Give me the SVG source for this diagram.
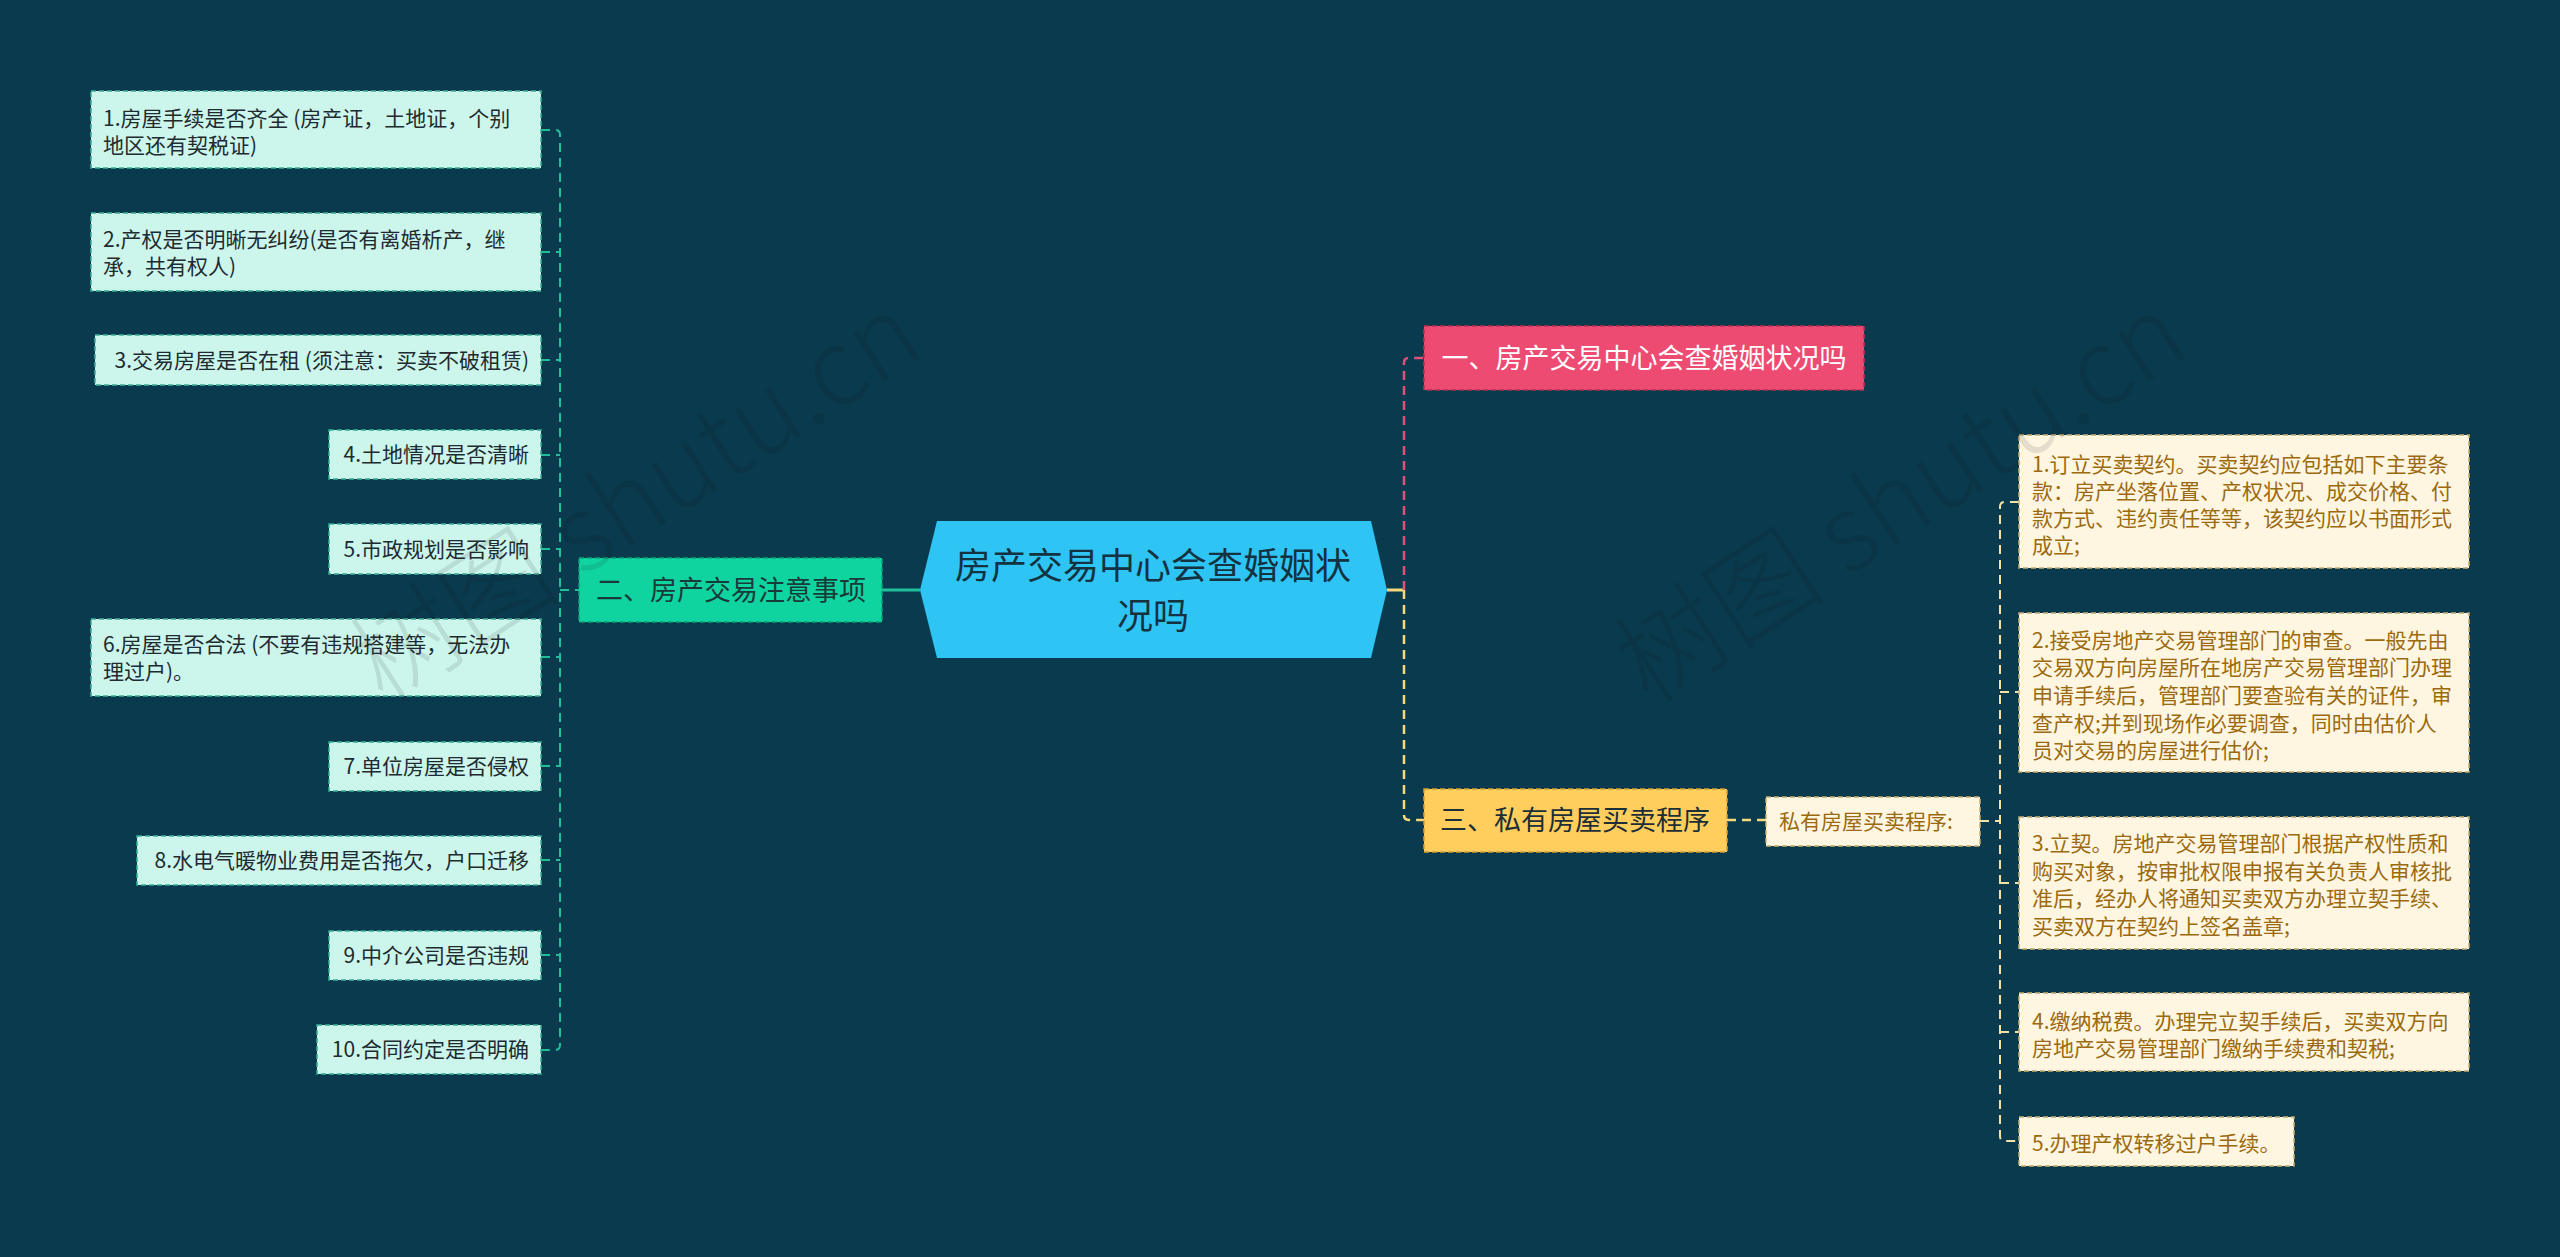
<svg xmlns="http://www.w3.org/2000/svg" width="2560" height="1257" viewBox="0 0 2560 1257">
<style>
text{font-family:"Noto Sans CJK SC","Noto Sans",sans-serif;}
.lf rect{fill:#CCF6EC;stroke:#3AAF95;stroke-width:1.5;stroke-dasharray:5 3;}
.lf text{font-size:21px;fill:#1E2B30;}
.rf rect{fill:#FFF6E1;stroke:#C7AE72;stroke-width:1.5;stroke-dasharray:5 3;}
.rf text{font-size:21px;fill:#9C6A0E;}
.br text{font-size:27px;}
.cg{fill:none;stroke:#1FBF9A;stroke-width:2;stroke-dasharray:9 6;}
.cp{fill:none;stroke:#E0517A;stroke-width:2.5;stroke-dasharray:9 6;}
.cy{fill:none;stroke:#F5D97A;stroke-width:2.5;stroke-dasharray:9 6;}
.cy2{fill:none;stroke:#F3E2A6;stroke-width:2;stroke-dasharray:9 6;}
.wm{font-size:106px;fill:#111;opacity:0.1;font-weight:300;}
</style>
<rect x="0" y="0" width="2560" height="1257" fill="#0A3A4D"/>

<g id="connectors">
<path class="cg" d="M541,130 H555 Q560,130 560,135 V1045 Q560,1050 555,1050 H541"/>
<path class="cg" d="M541,252 H560 M541,360 H560 M541,455 H560 M541,549 H560 M541,657 H560 M541,766 H560 M541,860 H560 M541,955 H560 M560,590 H579"/>
<path d="M882,590 H920" fill="none" stroke="#1FBF9A" stroke-width="3"/>
<path d="M1387,590 H1404" fill="none" stroke="#F5D97A" stroke-width="3"/>
<path class="cp" d="M1404,590 V363 Q1404,358 1409,358 H1424"/>
<path class="cy" d="M1404,590 V815 Q1404,820 1409,820 H1424"/>
<path class="cy" d="M1727,820 H1766"/>
<path class="cy2" d="M2019,502 H2005 Q2000,502 2000,507 V1136 Q2000,1141 2005,1141 H2019"/>
<path class="cy2" d="M2000,692 H2019 M2000,883 H2019 M2000,1032 H2019 M1980,821 H2000"/>
</g>

<g id="center">
<polygon points="937,521 1371,521 1387,590 1371,658 937,658 920,590" fill="#2EC4F4"/>
<text x="1153" y="579" font-size="36" fill="#14323F" text-anchor="middle">房产交易中心会查婚姻状</text>
<text x="1153" y="629" font-size="36" fill="#14323F" text-anchor="middle">况吗</text>
</g>

<g id="branch2" class="br">
<rect x="579" y="558" width="303" height="64" fill="#0FD4A0" stroke="#0A9E78" stroke-width="1.5" stroke-dasharray="5 3"/>
<text x="731" y="600" text-anchor="middle" fill="#1A3A3A">二、房产交易注意事项</text>
</g>
<g id="branch1" class="br">
<rect x="1424" y="326" width="440" height="64" fill="#EE4B73" stroke="#B8304F" stroke-width="1.5" stroke-dasharray="5 3"/>
<text x="1644" y="368" text-anchor="middle" fill="#FFFFFF">一、房产交易中心会查婚姻状况吗</text>
</g>
<g id="branch3" class="br">
<rect x="1424" y="789" width="303" height="63" fill="#FFCE5C" stroke="#D6A030" stroke-width="1.5" stroke-dasharray="5 3"/>
<text x="1575" y="830" text-anchor="middle" fill="#1C2E36">三、私有房屋买卖程序</text>
</g>

<g id="l1" class="lf"><rect x="91" y="91" width="450" height="77"/><text x="103" y="126">1.房屋手续是否齐全 (房产证，土地证，个别</text><text x="103" y="153">地区还有契税证)</text></g>
<g id="l2" class="lf"><rect x="91" y="213" width="450" height="78"/><text x="103" y="247">2.产权是否明晰无纠纷(是否有离婚析产，继</text><text x="103" y="274">承，共有权人)</text></g>
<g id="l3" class="lf"><rect x="95" y="335" width="446" height="50"/><text x="529" y="368" text-anchor="end">3.交易房屋是否在租 (须注意：买卖不破租赁)</text></g>
<g id="l4" class="lf"><rect x="329" y="430" width="212" height="49"/><text x="529" y="462" text-anchor="end">4.土地情况是否清晰</text></g>
<g id="l5" class="lf"><rect x="329" y="524" width="212" height="50"/><text x="529" y="557" text-anchor="end">5.市政规划是否影响</text></g>
<g id="l6" class="lf"><rect x="91" y="619" width="450" height="77"/><text x="103" y="652">6.房屋是否合法 (不要有违规搭建等，无法办</text><text x="103" y="679">理过户)。</text></g>
<g id="l7" class="lf"><rect x="329" y="742" width="212" height="49"/><text x="529" y="774" text-anchor="end">7.单位房屋是否侵权</text></g>
<g id="l8" class="lf"><rect x="137" y="836" width="404" height="49"/><text x="529" y="868" text-anchor="end">8.水电气暖物业费用是否拖欠，户口迁移</text></g>
<g id="l9" class="lf"><rect x="329" y="931" width="212" height="49"/><text x="529" y="963" text-anchor="end">9.中介公司是否违规</text></g>
<g id="l10" class="lf"><rect x="317" y="1025" width="224" height="49"/><text x="529" y="1057" text-anchor="end">10.合同约定是否明确</text></g>

<g id="r0" class="rf"><rect x="1766" y="797" width="214" height="49"/><text x="1779" y="829">私有房屋买卖程序:</text></g>
<g id="r1" class="rf"><rect x="2019" y="435" width="450" height="133"/>
<text x="2032" y="472">1.订立买卖契约。买卖契约应包括如下主要条</text>
<text x="2032" y="499">款：房产坐落位置、产权状况、成交价格、付</text>
<text x="2032" y="526">款方式、违约责任等等，该契约应以书面形式</text>
<text x="2032" y="553">成立;</text></g>
<g id="r2" class="rf"><rect x="2019" y="613" width="450" height="159"/>
<text x="2032" y="648">2.接受房地产交易管理部门的审查。一般先由</text>
<text x="2032" y="675">交易双方向房屋所在地房产交易管理部门办理</text>
<text x="2032" y="703">申请手续后，管理部门要查验有关的证件，审</text>
<text x="2032" y="731">查产权;并到现场作必要调查，同时由估价人</text>
<text x="2032" y="758">员对交易的房屋进行估价;</text></g>
<g id="r3" class="rf"><rect x="2019" y="817" width="450" height="132"/>
<text x="2032" y="851">3.立契。房地产交易管理部门根据产权性质和</text>
<text x="2032" y="879">购买对象，按审批权限申报有关负责人审核批</text>
<text x="2032" y="906">准后，经办人将通知买卖双方办理立契手续、</text>
<text x="2032" y="934">买卖双方在契约上签名盖章;</text></g>
<g id="r4" class="rf"><rect x="2019" y="993" width="450" height="78"/>
<text x="2032" y="1029">4.缴纳税费。办理完立契手续后，买卖双方向</text>
<text x="2032" y="1056">房地产交易管理部门缴纳手续费和契税;</text></g>
<g id="r5" class="rf"><rect x="2019" y="1117" width="275" height="49"/>
<text x="2032" y="1151">5.办理产权转移过户手续。</text></g>

<text class="wm" transform="translate(384,706) rotate(-33)">树图 shutu.cn</text>
<text class="wm" transform="translate(1649,706) rotate(-33)">树图 shutu.cn</text>
</svg>
